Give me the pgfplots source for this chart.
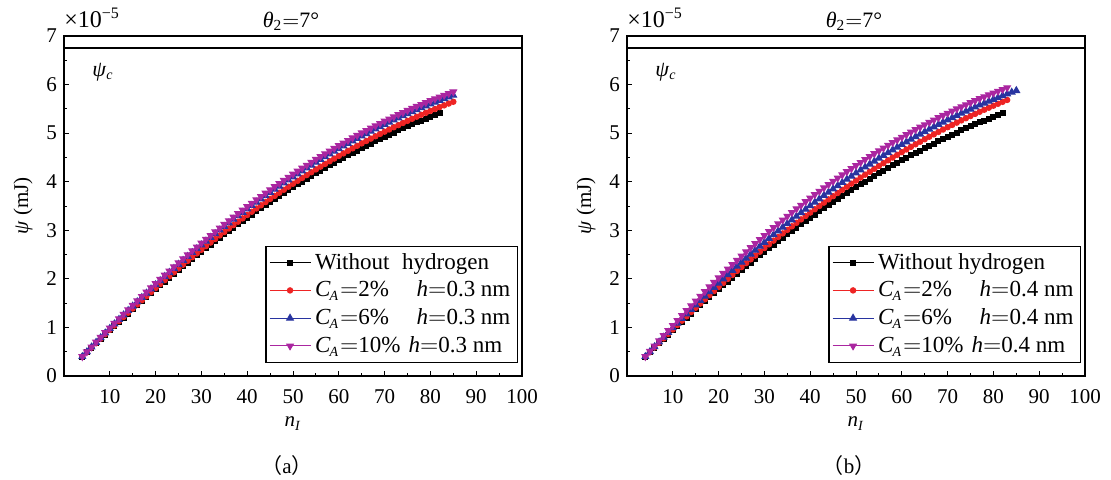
\documentclass[border=0pt]{standalone}
\usepackage{fontspec}
\setmainfont{Liberation Serif}
\newfontfamily\cjk{Noto Sans CJK SC}
\usepackage{pgfplots}
\usepackage{pgfplotstable}
\pgfplotsset{compat=1.18}
\definecolor{cred}{RGB}{238,36,36}
\definecolor{cblue}{RGB}{40,52,160}
\definecolor{cmag}{RGB}{170,38,160}

\pgfplotstableread{
x B LR LB LM RR RB RM
4 .400 .400 .400 .400 .400 .400 .400
5 .492 .494 .498 .500 .495 .501 .510
6 .583 .586 .596 .599 .589 .601 .618
7 .674 .679 .693 .698 .683 .700 .726
8 .764 .770 .789 .796 .776 .799 .833
9 .853 .861 .885 .893 .868 .896 .938
10 .941 .951 .979 .989 .959 .992 1.042
11 1.029 1.040 1.073 1.084 1.050 1.089 1.145
12 1.116 1.129 1.166 1.179 1.140 1.184 1.247
13 1.202 1.216 1.257 1.272 1.229 1.278 1.348
14 1.287 1.303 1.348 1.364 1.317 1.370 1.447
15 1.372 1.390 1.439 1.457 1.405 1.463 1.546
16 1.456 1.475 1.528 1.548 1.492 1.555 1.643
17 1.539 1.560 1.617 1.638 1.578 1.645 1.739
18 1.622 1.644 1.705 1.728 1.664 1.736 1.835
19 1.704 1.728 1.793 1.816 1.749 1.825 1.929
20 1.785 1.811 1.879 1.904 1.833 1.913 2.022
21 1.865 1.892 1.964 1.991 1.916 2.000 2.113
22 1.945 1.974 2.049 2.077 1.999 2.087 2.205
23 2.024 2.054 2.133 2.162 2.081 2.173 2.294
24 2.102 2.134 2.216 2.247 2.162 2.258 2.383
25 2.180 2.214 2.299 2.331 2.243 2.343 2.471
26 2.257 2.292 2.381 2.414 2.323 2.426 2.558
27 2.333 2.370 2.462 2.496 2.402 2.508 2.643
28 2.408 2.446 2.541 2.577 2.480 2.590 2.727
29 2.483 2.523 2.621 2.657 2.558 2.671 2.811
30 2.557 2.599 2.699 2.737 2.635 2.751 2.894
31 2.630 2.673 2.777 2.816 2.711 2.830 2.975
32 2.703 2.748 2.854 2.894 2.787 2.909 3.056
33 2.775 2.821 2.930 2.971 2.862 2.987 3.135
34 2.846 2.894 3.005 3.048 2.936 3.063 3.214
35 2.916 2.966 3.079 3.123 3.009 3.139 3.291
36 2.986 3.037 3.153 3.198 3.082 3.214 3.368
37 3.055 3.108 3.226 3.272 3.154 3.289 3.443
38 3.123 3.177 3.298 3.345 3.225 3.362 3.517
39 3.190 3.246 3.369 3.416 3.295 3.434 3.590
40 3.257 3.315 3.440 3.488 3.365 3.506 3.663
41 3.323 3.382 3.509 3.558 3.434 3.577 3.735
42 3.388 3.449 3.578 3.628 3.502 3.647 3.805
43 3.453 3.515 3.646 3.697 3.570 3.716 3.875
44 3.517 3.581 3.713 3.765 3.637 3.785 3.943
45 3.580 3.646 3.780 3.833 3.703 3.852 4.011
46 3.642 3.709 3.845 3.899 3.768 3.919 4.077
47 3.704 3.773 3.910 3.965 3.833 3.985 4.143
48 3.765 3.835 3.974 4.029 3.897 4.050 4.208
49 3.825 3.897 4.037 4.093 3.960 4.114 4.272
50 3.885 3.959 4.100 4.157 4.023 4.178 4.336
51 3.944 4.019 4.162 4.219 4.085 4.241 4.398
52 4.002 4.079 4.222 4.281 4.146 4.302 4.459
53 4.059 4.137 4.282 4.341 4.206 4.363 4.519
54 4.116 4.196 4.341 4.401 4.266 4.423 4.579
55 4.172 4.254 4.400 4.460 4.325 4.483 4.637
56 4.227 4.310 4.457 4.518 4.383 4.541 4.695
57 4.282 4.367 4.515 4.576 4.441 4.599 4.752
58 4.336 4.422 4.571 4.633 4.498 4.656 4.808
59 4.389 4.477 4.626 4.689 4.554 4.712 4.863
60 4.441 4.531 4.680 4.743 4.609 4.767 4.917
61 4.493 4.584 4.734 4.798 4.664 4.821 4.970
62 4.544 4.637 4.787 4.851 4.718 4.875 5.023
63 4.594 4.688 4.839 4.903 4.771 4.927 5.074
64 4.643 4.739 4.889 4.955 4.823 4.979 5.125
65 4.692 4.790 4.940 5.006 4.875 5.030 5.175
66 4.740 4.839 4.990 5.056 4.926 5.080 5.224
67 4.787 4.888 5.038 5.105 4.976 5.129 5.272
68 4.834 4.936 5.086 5.153 5.026 5.178 5.320
69 4.880 4.984 5.134 5.201 5.075 5.226 5.366
70 4.925 5.031 5.180 5.248 5.123 5.273 5.412
71 4.969 5.076 5.225 5.293 5.170 5.318 5.457
72 5.013 5.122 5.270 5.338 5.217 5.364 5.501
73 5.056 5.166 5.314 5.383 5.263 5.408 5.544
74 5.098 5.210 5.357 5.426 5.308 5.451 5.587
75 5.140 5.254 5.400 5.469 5.353 5.495 5.629
76 5.181 5.296 5.442 5.511 5.397 5.537 5.670
77 5.221 5.338 5.482 5.552 5.440 5.578 5.711
78 5.260 5.378 5.522 5.592 5.482 5.617 5.750
79 5.299 5.419 5.562 5.631 5.524 5.657 5.789
80 5.337 5.459 5.600 5.670 5.565 5.696 5.827
81 5.374 5.497 5.637 5.707 5.605 5.733 5.864
82 5.411 5.536 5.675 5.745 5.645 5.771 5.901
83 nan 5.573 5.711 5.781 5.684 5.807 5.937
84 nan 5.610 5.746 5.816 nan 5.842 nan
85 nan 5.646 5.780 5.850 nan 5.876 nan
}\data

\newcommand{\CA}[1]{\textit{C}\textsubscript{\kern-0.5pt\textit{\scriptsize A}}\kern0.5pt\ensuremath{=}#1}
\newcommand{\hh}[1]{\textit{h}\ensuremath{=}#1 nm}

\pgfplotsset{
  panel/.style={
    scale only axis, width=229pt, height=170pt,
    xmin=0, xmax=100, ymin=0, ymax=7,
    clip mode=individual,
    xtick={10,20,...,100}, ytick={0,1,...,7},
    minor x tick num=1, minor y tick num=1,
    xtick pos=left, ytick pos=left,
    tick align=inside,
    major tick length=2.6pt, minor tick length=1.6pt,
    tick style={black, line width=0.5pt},
    axis line style={line width=0.7pt},
    /pgf/number format/assume math mode=true,
    tick label style={font=\fontsize{10.5}{12}\selectfont},
    xticklabel style={yshift=-3pt},
    label style={font=\fontsize{10.5}{12}\selectfont},
    xlabel={\textit{n}\textsubscript{\textit{\scriptsize I}}},
    ylabel={\textit{ψ} (mJ)},
    legend style={at={(rel axis cs:1,0)}, anchor=south east, xshift=-2pt, yshift=6.5pt,
      draw=black, line width=0.6pt, font=\fontsize{11.5}{13}\selectfont,
      inner sep=1.5pt, row sep=0.4pt},
    legend cell align=left,
    legend image code/.code={\draw[mark repeat=2,mark phase=2] plot coordinates {(0cm,0cm) (0.36cm,0cm) (0.72cm,0cm)};},
    every axis plot/.append style={line width=0.5pt},
  },
  sB/.style={black, mark=square*, mark size=1.25pt, mark options={solid}},
  sR/.style={cred, mark=*, mark size=1.35pt, mark options={solid}},
  sU/.style={cblue, mark=triangle*, mark size=1.9pt, mark options={solid}},
  sM/.style={cmag, mark=triangle*, mark size=1.9pt, mark options={solid, rotate=180}},
}

\begin{document}
\begin{tikzpicture}
\path[use as bounding box] (-32pt,-51.5pt) rectangle (523.5pt,188pt);
% ---------- panel (a)
\begin{axis}[panel, at={(0pt,0pt)}, anchor=south west]
\addplot[sB] table[x=x, y=B] {\data};
\addlegendentry{Without\hspace{0.55em}hydrogen}
\addplot[sR] table[x=x, y=LR] {\data};
\addlegendentry{\CA{2\%\phantom{0}}\hspace{0.7em}\hh{0.3}}
\addplot[sU] table[x=x, y=LB] {\data};
\addlegendentry{\CA{6\%\phantom{0}}\hspace{0.7em}\hh{0.3}}
\addplot[sM] table[x=x, y=LM] {\data};
\addlegendentry{\CA{10\%}\hspace{0.35em}\hh{0.3}}
\draw[line width=0.7pt] (rel axis cs:0,0.965) -- (rel axis cs:1,0.965);
\node[anchor=base west, inner sep=0pt, font=\fontsize{12}{13}\selectfont] at ([yshift=4.5pt]rel axis cs:0,1) {×10\textsuperscript{−5}};
\node[anchor=base, inner sep=0pt, font=\fontsize{11}{12}\selectfont] at ([yshift=4.5pt,xshift=-1pt]rel axis cs:0.5,1) {\textit{θ}\textsubscript{2}\ensuremath{=}7°};
\node[font=\fontsize{11}{12}\selectfont] at (rel axis cs:0.085,0.894) {\textit{ψ}\textsubscript{\textit{\scriptsize c}}};
\node[font=\fontsize{10.5}{12}\selectfont] at ([yshift=-45pt,xshift=-3pt]rel axis cs:0.5,0) {{\cjk （}a{\cjk ）}};
\end{axis}
% ---------- panel (b)
\begin{axis}[panel, at={(281.5pt,0pt)}, anchor=south west]
\addplot[sB] table[x=x, y=B] {\data};
\addlegendentry{Without hydrogen}
\addplot[sR] table[x=x, y=RR] {\data};
\addlegendentry{\CA{2\%\phantom{0}}\hspace{0.7em}\hh{0.4}}
\addplot[sU] table[x=x, y=RB] {\data};
\addlegendentry{\CA{6\%\phantom{0}}\hspace{0.7em}\hh{0.4}}
\addplot[sM] table[x=x, y=RM] {\data};
\addlegendentry{\CA{10\%}\hspace{0.35em}\hh{0.4}}
\draw[line width=0.7pt] (rel axis cs:0,0.965) -- (rel axis cs:1,0.965);
\node[anchor=base west, inner sep=0pt, font=\fontsize{12}{13}\selectfont] at ([yshift=4.5pt]rel axis cs:0,1) {×10\textsuperscript{−5}};
\node[anchor=base, inner sep=0pt, font=\fontsize{11}{12}\selectfont] at ([yshift=4.5pt,xshift=-1pt]rel axis cs:0.5,1) {\textit{θ}\textsubscript{2}\ensuremath{=}7°};
\node[font=\fontsize{11}{12}\selectfont] at (rel axis cs:0.085,0.894) {\textit{ψ}\textsubscript{\textit{\scriptsize c}}};
\node[font=\fontsize{10.5}{12}\selectfont] at ([yshift=-45pt,xshift=-3.5pt]rel axis cs:0.5,0) {{\cjk （}b{\cjk ）}};
\end{axis}
\end{tikzpicture}
\end{document}
